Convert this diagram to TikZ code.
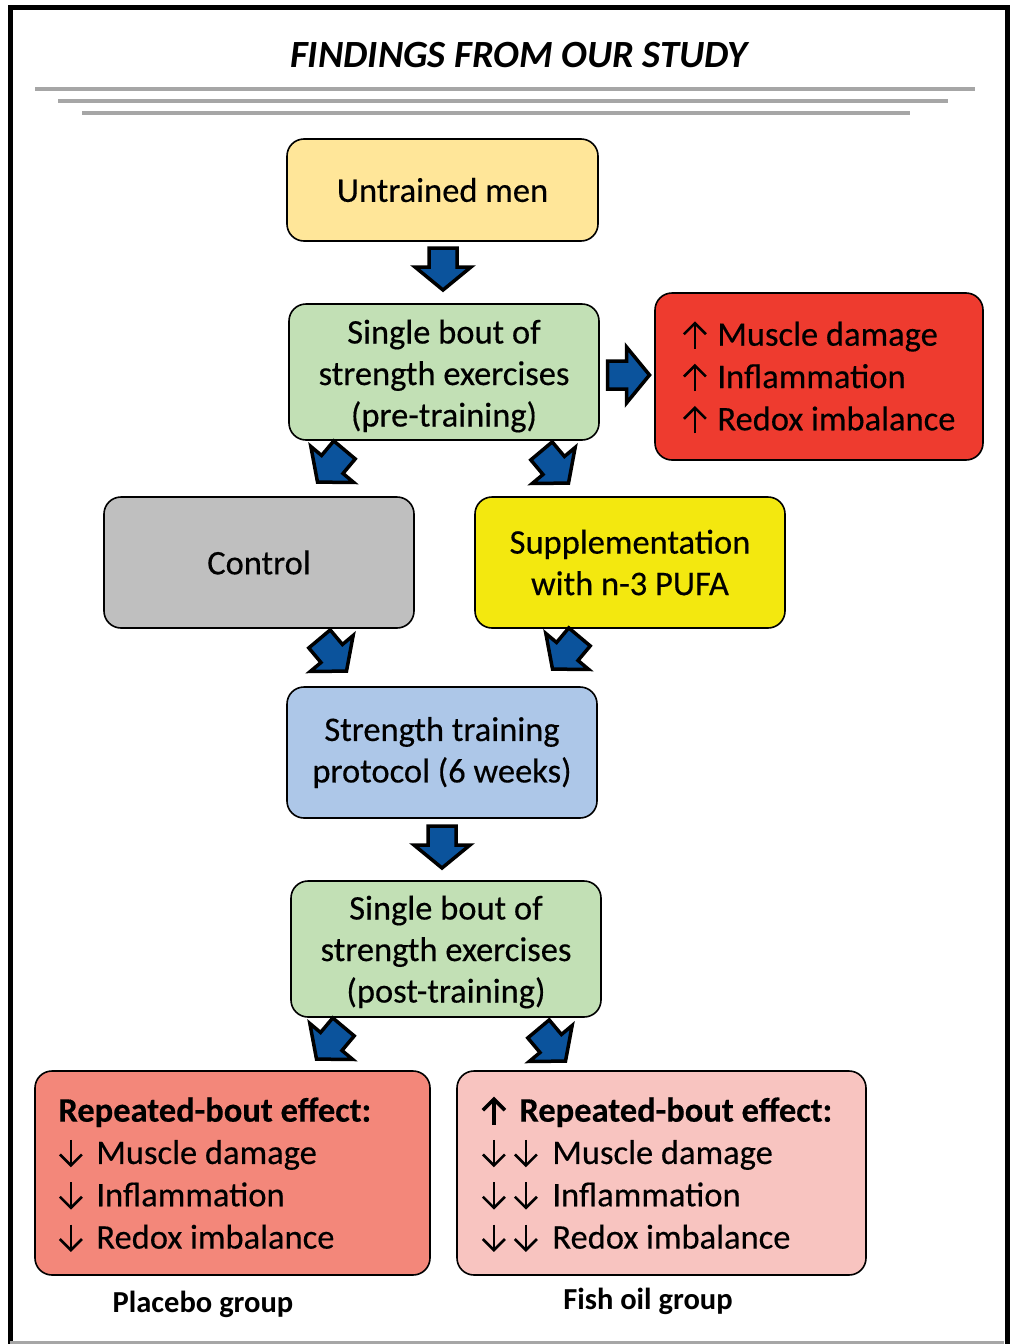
\documentclass[tikz,border=0pt]{standalone}
\usepackage{fontspec}
\usepackage{pict2e}
\setmainfont{Carlito}
\newfontfamily\boxfont{Carlito}[FakeBold=0.35]
\definecolor{cUntr}{HTML}{FFE699}
\definecolor{cGreen}{HTML}{C2E0B5}
\definecolor{cRed}{HTML}{EE3B2F}
\definecolor{cGray}{HTML}{BFBFBF}
\definecolor{cYellow}{HTML}{F3E80F}
\definecolor{cBlue}{HTML}{ADC7E8}
\definecolor{cPlacebo}{HTML}{F3877A}
\definecolor{cFish}{HTML}{F8C4C0}
\definecolor{cArrow}{HTML}{0B539C}
\definecolor{cLine}{HTML}{A6A6A6}
\tikzset{
  box/.style={draw=black, line width=1.6pt, rounded corners=17pt, align=center,
    inner sep=0pt, font=\fontsize{34.5}{41.5}\selectfont\boxfont, text=black},
  boxtext/.style={inner sep=0pt, align=left, anchor=west,
    font=\fontsize{34.5}{42.3}\selectfont\boxfont, text=black},
  blockarrow/.style={fill=cArrow, draw=black, line width=3.5pt, line join=miter},
  barrow/.pic={\path[blockarrow] (-21pt,-14pt) -- (-2pt,-14pt) -- (-2pt,-28pt) -- (21pt,0pt)
      -- (-2pt,28pt) -- (-2pt,14pt) -- (-21pt,14pt) -- cycle;},
  grayline/.style={draw=cLine, line width=4.5pt},
  grouplabel/.style={font=\fontsize{30.5}{34}\selectfont\bfseries, inner sep=0pt}
}
\setlength\unitlength{1pt}
\newsavebox\uparbox
\newsavebox\bupbox
\newsavebox\dnarbox
\newcommand{\upar}{\usebox\uparbox\hspace{10pt}}
\newcommand{\dnar}{\usebox\dnarbox\hspace{13pt}}
\newcommand{\ddnar}{\usebox\dnarbox\hspace{7pt}\usebox\dnarbox\hspace{14pt}}
\begin{document}
\sbox\uparbox{\raisebox{-3pt}{\begin{picture}(25,27)
  \linethickness{2.6pt}\put(12.5,0){\line(0,1){25}}\polyline(1.5,14.5)(12.5,25.5)(23.5,14.5)\end{picture}}}
\sbox\bupbox{\raisebox{-3pt}{\begin{picture}(25,27)
  \linethickness{3.6pt}\put(12.5,0){\line(0,1){25}}\polyline(1.5,14.5)(12.5,25.5)(23.5,14.5)\end{picture}}}
\sbox\dnarbox{\raisebox{-3pt}{\begin{picture}(25,27)
  \linethickness{2.6pt}\put(12.5,27){\line(0,-1){25}}\polyline(1.5,12.5)(12.5,1.5)(23.5,12.5)\end{picture}}}
\begin{tikzpicture}[x=1pt, y=-1pt]
\useasboundingbox (0,0) rectangle (1010,1344);
% frame
\draw[black, line width=5pt] (10.5,1344) -- (10.5,7.5) -- (1007,7.5) -- (1007,1344);
\draw[cLine, line width=2.5pt] (10,1342.5) -- (1004,1342.5);
% title
\node[font=\fontsize{38.5}{42}\selectfont\bfseries\itshape, inner sep=0pt] (title) at (519,55) {FINDINGS FROM OUR STUDY};
\draw[grayline] (35,89) -- (975,89);
\draw[grayline] (58,101) -- (948,101);
\draw[grayline] (82,113) -- (910,113);
% boxes
\node[box, fill=cUntr, minimum width=311pt, minimum height=102pt] (untr) at (442.5,190) {Untrained men};
\node[box, fill=cGreen, minimum width=310pt, minimum height=136pt] (pre) at (444,372) {};
\node[box, draw=none, fill=none] (pret) at (444,376) {Single bout of\\strength exercises\\(pre-training)};
\node[box, fill=cRed, minimum width=328pt, minimum height=167pt] (eff) at (819,376.5) {};
\node[boxtext] (efft) at ([xshift=28pt, yshift=-1pt]eff.west) {\upar Muscle damage\\\upar Inflammation\\\upar Redox imbalance};
\node[box, fill=cGray, minimum width=310pt, minimum height=131pt] (ctrl) at (259,562.5) {Control};
\node[box, fill=cYellow, minimum width=310pt, minimum height=131pt] (supp) at (630,562.5) {Supplementation\\with n-3 PUFA};
\node[box, fill=cBlue, minimum width=310pt, minimum height=131pt] (train) at (442,752.5) {Strength training\\protocol (6 weeks)};
\node[box, fill=cGreen, minimum width=310pt, minimum height=136pt] (post) at (446,949) {};
\node[box, draw=none, fill=none] (postt) at (446,952) {Single bout of\\strength exercises\\(post-training)};
\node[box, fill=cPlacebo, minimum width=395pt, minimum height=204pt] (plac) at (232.5,1173) {};
\node[boxtext] (plact) at ([xshift=24pt, yshift=-1.5pt]plac.west)
  {\textbf{Repeated-bout effect:}\\\dnar Muscle damage\\\dnar Inflammation\\\dnar Redox imbalance};
\node[box, fill=cFish, minimum width=409pt, minimum height=204pt] (fish) at (661.5,1173) {};
\node[boxtext] (fisht) at ([xshift=25pt, yshift=-1.5pt]fish.west)
  {\textbf{\usebox\bupbox\hspace{13pt}Repeated-bout effect:}\\\ddnar Muscle damage\\\ddnar Inflammation\\\ddnar Redox imbalance};
\node[grouplabel] (lplac) at (203,1304) {Placebo group};
\node[grouplabel] (lfish) at (648,1301) {Fish oil group};
% block arrows
\pic[rotate=-90] at (443,269) {barrow};
\pic[rotate=0] at (628.5,375) {barrow};
\pic[rotate=-130] at (331,466) {barrow};
\pic[rotate=-50] at (555,467) {barrow};
\pic[rotate=-50] at (333,655) {barrow};
\pic[rotate=-130] at (566,653) {barrow};
\pic[rotate=-90] at (442,847) {barrow};
\pic[rotate=-130] at (330,1043) {barrow};
\pic[rotate=-50] at (552,1045) {barrow};
\end{tikzpicture}
\end{document}
